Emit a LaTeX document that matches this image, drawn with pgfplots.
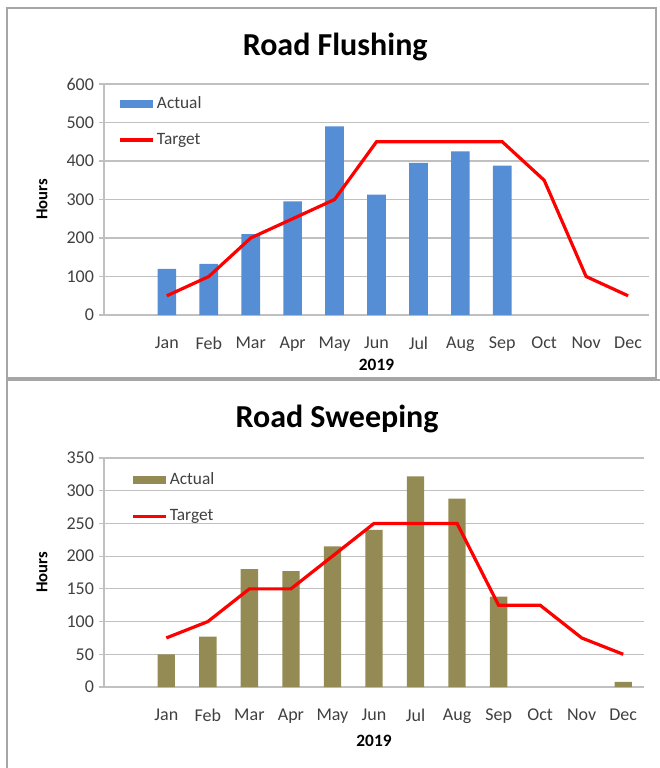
\documentclass[border=0pt]{standalone}
\usepackage{pgfplots}
\pgfplotsset{compat=1.18}
\usepackage{fontspec}
\setmainfont{Carlito}
\definecolor{fblue}{HTML}{558ED5}
\definecolor{solive}{HTML}{948A54}
\definecolor{gridc}{HTML}{C0C0C0}
\definecolor{txt}{HTML}{404040}
\definecolor{frame}{HTML}{A6A6A6}

\pgfplotsset{
  excelstyle/.style={
    scale only axis,
    anchor=south west,
    xmin=-0.5, xmax=12.5, ymin=0,
    xtick={1,...,12},
    xticklabels={Jan,Feb,Mar,Apr,May,Jun,Jul,Aug,Sep,Oct,Nov,Dec},
    axis x line=bottom, axis y line=left,
    axis line style={-, draw=gridc, line width=0.9pt},
    ymajorgrids, grid style={draw=gridc, line width=0.9pt},
    xtick style={draw=none},
    ytick style={draw=gridc, line width=0.9pt},
    tick align=outside, major tick length=4pt,
    /pgf/number format/assume math mode=true,
    tick label style={font=\fontsize{13.5}{15}\selectfont, text=txt},
    xticklabel style={yshift=-9pt},
    xlabel={2019},
    xlabel style={font=\bfseries\fontsize{13}{15}\selectfont, text=black,
      at={(axis description cs:0.5,0)}, anchor=center},
    ylabel={Hours},
    ylabel style={font=\bfseries\fontsize{12.5}{15}\selectfont, text=black,
      at={(axis description cs:0,0.5)}, anchor=center, yshift=46.5pt},
    title style={font=\bfseries\fontsize{24}{28}\selectfont, anchor=center,
      at={(axis description cs:0.5,1)}},
    legend cell align=left,
    legend style={draw=none, fill=none, anchor=north west,
      font=\fontsize{13}{15}\selectfont, text=txt, row sep=14pt,
      inner sep=0pt, nodes={inner sep=1.5pt}},
  },
  barlegend/.style={legend image code/.code={\fill[##1] (0pt,-3pt) rectangle (25pt,3pt);}},
  linelegend/.style={legend image code/.code={\draw[##1] (0pt,0pt) -- (25pt,0pt);}},
}

\begin{document}
\begin{tikzpicture}
\begin{scope}[x=0.75pt,y=-0.75pt]
\path[use as bounding box] (0,0) rectangle (660,768);
\draw[frame, line width=1.2pt] (7,8) rectangle (656,378);
\draw[frame, line width=1.2pt] (7,380) rectangle (664,772);
\end{scope}

% ---------- Road Flushing ----------
\begin{axis}[excelstyle,
  at={(78pt,-236.25pt)},
  width=408.75pt, height=173.25pt,
  ymax=600, ytick={0,100,...,600},
  title={Road Flushing},
  title style={xshift=-31pt, yshift=22pt},
  xlabel style={yshift=-37.5pt},
  legend style={at={(axis description cs:0.026,0.955)}},
]
\addplot[fill=fblue, draw=none, ybar, bar width=14pt, barlegend] coordinates {
  (1,120) (2,133) (3,210) (4,295) (5,490) (6,313) (7,395) (8,425) (9,388)
};
\addlegendentry{Actual}
\addplot[red, line width=2.4pt, mark=none, linelegend] coordinates {
  (1,50) (2,100) (3,200) (4,250) (5,300) (6,450) (7,450) (8,450) (9,450) (10,350) (11,100) (12,50)
};
\addlegendentry{Target}
\end{axis}

% ---------- Road Sweeping ----------
\begin{axis}[excelstyle,
  at={(78pt,-515.25pt)},
  width=405pt, height=171.75pt,
  ymax=350, ytick={0,50,...,350},
  title={Road Sweeping},
  title style={xshift=-27.75pt, yshift=23.25pt},
  xlabel style={yshift=-40.5pt},
  legend style={at={(axis description cs:0.05,0.945)}},
]
\addplot[fill=solive, draw=none, ybar, bar width=13pt, barlegend] coordinates {
  (1,50) (2,77) (3,180) (4,177) (5,215) (6,240) (7,322) (8,288) (9,138) (12,8)
};
\addlegendentry{Actual}
\addplot[red, line width=2.4pt, mark=none, linelegend] coordinates {
  (1,75) (2,100) (3,150) (4,150) (5,200) (6,250) (7,250) (8,250) (9,125) (10,125) (11,75) (12,50)
};
\addlegendentry{Target}
\end{axis}
\end{tikzpicture}
\end{document}
